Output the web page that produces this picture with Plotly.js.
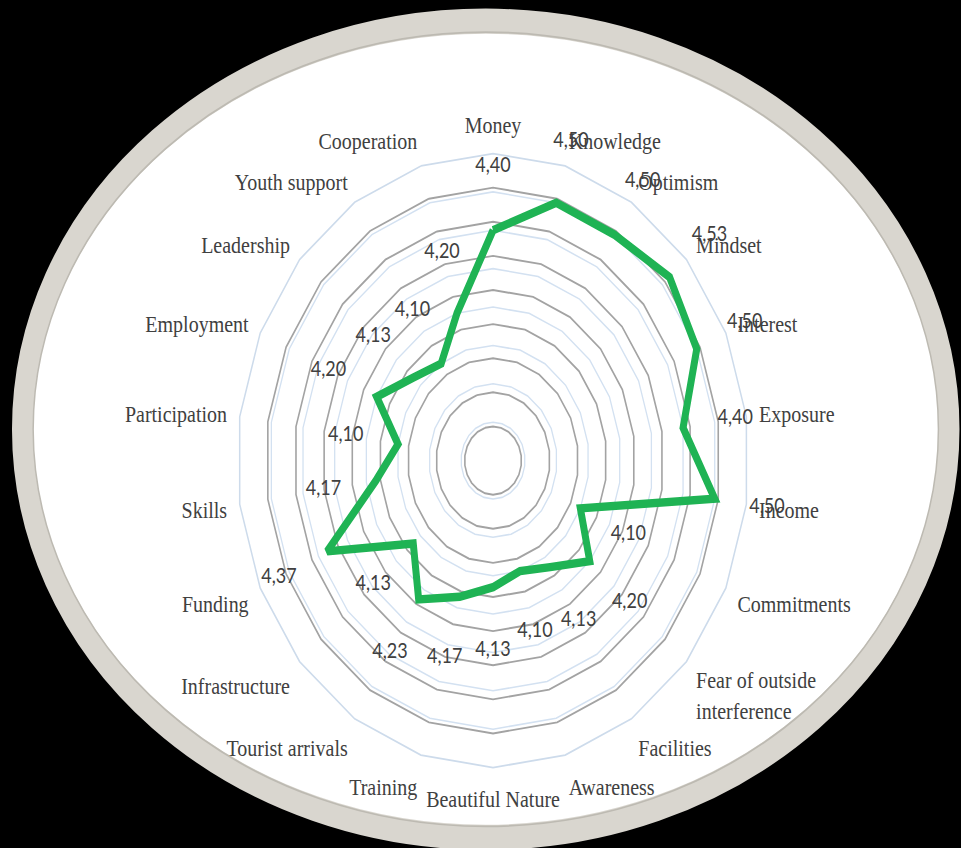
<!DOCTYPE html>
<html>
<head>
<meta charset="utf-8">
<script src="https://cdn.plot.ly/plotly-3.0.1.min.js"></script>
<style>
  html, body { margin: 0; padding: 0; background: #000; overflow: hidden; }
  #wrap { width: 961px; height: 848px; overflow: hidden; background: #000; }
  #chart { width: 961px; height: 707px; transform: scaleY(1.19943); transform-origin: 0 0; }
</style>
</head>
<body>
<div id="wrap"><div id="chart"></div></div>
<script>
// ---- data ----
const categories = ['Money', 'Knowledge', 'Optimism', 'Mindset', 'Interest', 'Exposure', 'Income',
  'Commitments', 'Fear of outside<br>interference', 'Facilities', 'Awareness', 'Beautiful Nature',
  'Training', 'Tourist arrivals', 'Infrastructure', 'Funding', 'Skills', 'Participation',
  'Employment', 'Leadership', 'Youth support', 'Cooperation'];
const values = [4.40, 4.50, 4.50, 4.53, 4.50, 4.40, 4.50,
  4.10, 4.20, 4.13, 4.10, 4.13,
  4.17, 4.23, 4.13, 4.37, 4.17, 4.10,
  4.20, 4.13, 4.10, 4.20];
const radialMin = 3.8;
const radialMax = 4.6;
const valueGrid = [3.9, 4.0, 4.1, 4.2, 4.3, 4.4, 4.5];
const ringCount = 9;

// ---- derived ----
const closedTheta = categories.concat([categories[0]]);
const closedR = values.concat([values[0]]);
const labelText = values.map(v => v.toFixed(2).replace('.', ','));
const labelOffset = 0.165;
const labelR = values.map(v => v + labelOffset);
const labelMax = 4.8;
const ringVals = [];
for (let i = 1; i < ringCount; i++) ringVals.push(radialMin + (radialMax - radialMin) * i / ringCount);

const traces = [
  { // holds the value grid (light blue) and the category labels
    type: 'scatterpolar', subplot: 'polar', mode: 'lines',
    r: [], theta: [], hoverinfo: 'skip', showlegend: false
  },
  {
    type: 'scatterpolar', subplot: 'polar2', mode: 'lines',
    r: closedR, theta: closedTheta,
    line: { color: '#1fb354', width: 7, shape: 'linear' },
    hoverinfo: 'skip', showlegend: false
  },
  {
    type: 'scatterpolar', subplot: 'polar3', mode: 'text',
    r: labelR, theta: categories, text: labelText,
    textposition: 'middle center',
    textfont: { family: 'Lato, "Liberation Sans", sans-serif', size: 18, color: '#404040' },
    cliponaxis: false, hoverinfo: 'skip', showlegend: false
  }
];

const hiddenAngular = {
  type: 'category', categoryarray: categories, rotation: 90, direction: 'clockwise',
  showgrid: false, showline: false, showticklabels: false, ticks: ''
};

const layout = {
  width: 961,
  height: 707,
  margin: { l: 0, r: 0, t: 0, b: 0 },
  paper_bgcolor: '#000000',
  showlegend: false,
  hovermode: false,
  shapes: [
    {
      type: 'circle', xref: 'paper', yref: 'paper', layer: 'below',
      x0: 0.0234, x1: 0.9875, y0: 0.0126, y1: 0.9750,
      fillcolor: '#ffffff',
      line: { color: '#d9d6cf', width: 21 }
    },
    {
      type: 'circle', xref: 'paper', yref: 'paper', layer: 'below',
      x0: 0.0345, x1: 0.9765, y0: 0.0255, y1: 0.9621,
      fillcolor: 'rgba(0,0,0,0)',
      line: { color: '#bdbab2', width: 1.5 }
    }
  ],
  polar: {
    domain: { x: [0.2467, 0.7794], y: [0.0948, 0.8190] },
    bgcolor: 'rgba(0,0,0,0)',
    gridshape: 'linear',
    radialaxis: {
      range: [radialMin, radialMax],
      tickvals: valueGrid,
      showticklabels: false, ticks: '', showline: false,
      gridcolor: '#d3e1f1', gridwidth: 1.3
    },
    angularaxis: {
      type: 'category',
      categoryarray: categories,
      rotation: 90,
      direction: 'clockwise',
      showgrid: false,
      showline: true,
      linecolor: '#cddbeb',
      linewidth: 1.5,
      ticks: 'outside',
      ticklen: 8,
      tickcolor: 'rgba(0,0,0,0)',
      tickfont: { family: '"Liberation Serif", "Times New Roman", serif', size: 20, color: '#404040' }
    }
  },
  polar2: {
    domain: { x: [0.2467, 0.7794], y: [0.0948, 0.8190] },
    bgcolor: 'rgba(0,0,0,0)',
    gridshape: 'linear',
    radialaxis: {
      range: [radialMin, radialMax],
      tickvals: ringVals,
      showticklabels: false, ticks: '', showline: false,
      gridcolor: '#a3a3a3', gridwidth: 1.6
    },
    angularaxis: hiddenAngular
  },
  polar3: {
    domain: { x: [0.18002, 0.84599], y: [0.00424, 0.90948] },
    bgcolor: 'rgba(0,0,0,0)',
    gridshape: 'linear',
    radialaxis: { range: [radialMin, labelMax], visible: false, showgrid: false },
    angularaxis: hiddenAngular
  }
};

Plotly.newPlot('chart', traces, layout, { displayModeBar: false, staticPlot: true });
</script>
</body>
</html>
